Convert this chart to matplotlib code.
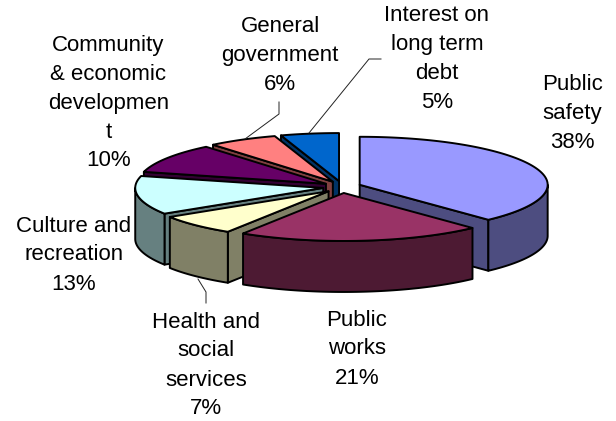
import numpy as np
import matplotlib
matplotlib.use("Agg")
import matplotlib.pyplot as plt
from matplotlib.patches import Polygon

plt.rcParams['font.family'] = ['Liberation Sans', 'DejaVu Sans']

categories = ["Public safety", "Public works", "Health and social services",
              "Culture and recreation", "Community & economic development",
              "General government", "Interest on long term debt"]
labels = ["Public\nsafety\n38%", "Public\nworks\n21%", "Health and\nsocial\nservices\n7%",
          "Culture and\nrecreation\n13%", "Community\n& economic\ndevelopmen\nt\n10%",
          "General\ngovernment\n6%", "Interest on\nlong term\ndebt\n5%"]
values = [38, 21, 7, 13, 10, 6, 5]
top_colors = ["#9999ff", "#993366", "#ffffcc", "#ccffff", "#660066", "#ff8080", "#0066cc"]
side_colors = ["#4d4d80", "#4d1a33", "#808066", "#668080", "#330033", "#804040", "#003366"]
label_pos = [(572.5, 114), (357, 349), (206, 365.5), (74, 255), (108.5, 103), (280, 56), (437, 59)]
leaders = [[(381, 59), (369, 59), (309, 133)],
           [(279, 102), (279, 114), (245, 139)],
           [(198, 279), (206, 292), (206, 303)]]

CX, CY, RX, RY, DEPTH = 342, 187, 188, 48, 51
EX, EY = 19, 6
LW = 1.4

fig = plt.figure(figsize=(6.16, 4.21), dpi=100)
ax = fig.add_axes([0, 0, 1, 1])
ax.set_xlim(0, 616)
ax.set_ylim(421, 0)
ax.axis("off")

fracs = np.array(values) / sum(values)
edges = np.concatenate([[0], np.cumsum(fracs)]) * 2 * np.pi


def pt(c, a, rx=RX, ry=RY):
    return np.array([c[0] + rx * np.sin(a), c[1] - ry * np.cos(a)])


order = sorted(range(len(values)), key=lambda k: -np.cos((edges[k] + edges[k + 1]) / 2))
down = np.array([0, DEPTH])
for i in order:
    a0, a1 = edges[i], edges[i + 1]
    c = pt((CX, CY), (a0 + a1) / 2, EX, EY)
    col = side_colors[i]
    style = dict(closed=True, fc=col, ec="k", lw=LW, joinstyle="round")
    # radial walls that face the viewer
    if a0 > np.pi:
        p = pt(c, a0)
        ax.add_patch(Polygon([c, p, p + down, c + down], **style))
    if a1 < np.pi:
        p = pt(c, a1)
        ax.add_patch(Polygon([c, p, p + down, c + down], **style))
    # outer wall: front half of the rim only
    lo, hi = max(a0, np.pi / 2), min(a1, 3 * np.pi / 2)
    if hi > lo:
        rim = np.array([pt(c, a) for a in np.linspace(lo, hi, 80)])
        ax.add_patch(Polygon(np.vstack([rim, (rim + down)[::-1]]), **style))
    # top face
    arc = np.array([pt(c, a) for a in np.linspace(a0, a1, 120)])
    ax.add_patch(Polygon(np.vstack([c, arc]), closed=True, fc=top_colors[i], ec="k", lw=LW, joinstyle="round"))

for lab, (x, y) in zip(labels, label_pos):
    ax.text(x, y, lab, ha="center", va="center", fontsize=16, linespacing=1.5, color="k")

for seg in leaders:
    xs, ys = zip(*seg)
    ax.plot(xs, ys, color="#222222", lw=0.7, zorder=1)

fig.savefig("out.png", dpi=100, facecolor="white")
